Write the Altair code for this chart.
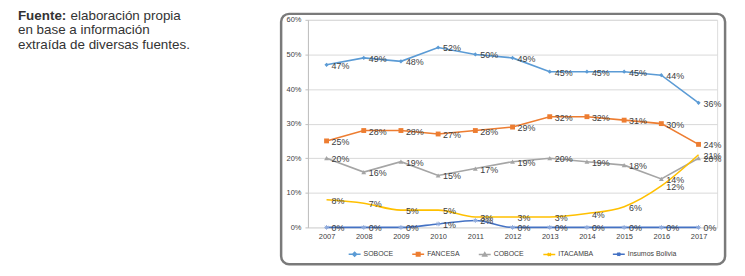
import altair as alt
import pandas as pd

years = ["2007", "2008", "2009", "2010", "2011", "2012", "2013", "2014", "2015", "2016", "2017"]
series = ["SOBOCE", "FANCESA", "COBOCE", "ITACAMBA", "Insumos Bolivia"]
soboce = [47, 49, 48, 52, 50, 49, 45, 45, 45, 44, 36]
fancesa = [25, 28, 28, 27, 28, 29, 32, 32, 31, 30, 24]
coboce = [20, 16, 19, 15, 17, 19, 20, 19, 18, 14, 20]
itacamba = [8, 7, 5, 5, 3, 3, 3, 4, 6, 12, 21]
insumos = [0, 0, 0, 1, 2, 0, 0, 0, 0, 0, 0]
colors = ["#5B9BD5", "#ED7D31", "#A5A5A5", "#FFC000", "#4472C4"]
y_ticks = [0, 10, 20, 30, 40, 50, 60]
note_bold = "Fuente:"
note_first = "elaboración propia"
note_second = "en base a información"
note_third = "extraída de diversas fuentes."

values = [soboce, fancesa, coboce, itacamba, insumos]
rows = []
for s, vals in zip(series, values):
    for yr, v in zip(years, vals):
        rows.append({"year": yr, "serie": s, "value": v})
df = pd.DataFrame(rows)

color_scale = alt.Scale(domain=series, range=colors)

legend_paths = {
    "SOBOCE": "M-1,0H1M0,-0.33L0.33,0L0,0.33L-0.33,0Z",
    "FANCESA": "M-1,0H1M-0.3,-0.3H0.3V0.3H-0.3Z",
    "COBOCE": "M-1,0H1M0,-0.3L0.33,0.25H-0.33Z",
    "ITACAMBA": "M-1,0H1M-0.25,-0.25L0.25,0.25M-0.25,0.25L0.25,-0.25",
    "Insumos Bolivia": "M-1,0H1M-0.25,-0.25L0.25,0.25M-0.25,0.25L0.25,-0.25M0,-0.3V0.3",
}
shape_expr = "{" + ",".join(f"'{k}':'{v}'" for k, v in legend_paths.items()) + "}[datum.value]"
fill_expr = "{" + ",".join(f"'{k}':'{c}'" for k, c in zip(series, colors)) + "}[datum.value]"

legend = alt.Legend(
    orient="none", legendX=40, legendY=229, direction="horizontal", title=None,
    labelFontSize=7, labelColor="#404040", labelFont="Liberation Sans",
    symbolSize=144, symbolStrokeWidth=1.5, columnPadding=16, labelOffset=2,
    symbolType=alt.ExprRef(expr=shape_expr),
    symbolFillColor=alt.ExprRef(expr=fill_expr),
)

x_enc = alt.X("year:O", scale=alt.Scale(type="point", padding=0.5),
              axis=alt.Axis(title=None, labelAngle=0, ticks=False, domain=False,
                            labelFontSize=7.5, labelColor="#404040", labelPadding=5,
                            labelFont="Liberation Sans"))
y_enc = alt.Y("value:Q", scale=alt.Scale(domain=[0, 60], nice=False),
              axis=alt.Axis(title=None, values=y_ticks, labelExpr="datum.value + '%'",
                            tickSize=3, tickColor="#BFBFBF", domainColor="#BFBFBF",
                            gridColor="#D9D9D9", labelFontSize=7.5, labelColor="#404040",
                            labelPadding=4, labelFont="Liberation Sans"))

base = alt.Chart(df).encode(x=x_enc, y=y_enc)

lines_straight = base.transform_filter(
    alt.FieldOneOfPredicate(field="serie", oneOf=["SOBOCE", "FANCESA", "COBOCE"])
).mark_line(strokeWidth=1.6).encode(color=alt.Color("serie:N", scale=color_scale, legend=legend))

lines_smooth = base.transform_filter(
    alt.FieldOneOfPredicate(field="serie", oneOf=["ITACAMBA", "Insumos Bolivia"])
).mark_line(strokeWidth=1.6, interpolate="monotone").encode(
    color=alt.Color("serie:N", scale=color_scale, legend=legend))

def pts(name, **kw):
    return base.transform_filter(alt.datum.serie == name).mark_point(**kw)

p_sob = pts("SOBOCE", shape="diamond", size=18, filled=True, color=colors[0], opacity=1)
p_fan = pts("FANCESA", shape="square", size=24, filled=True, color=colors[1], opacity=1)
p_cob = pts("COBOCE", shape="triangle-up", size=24, filled=True, color=colors[2], opacity=1)
p_ins = pts("Insumos Bolivia",
            shape="M-1,0H1M0,-1V1M-0.7,-0.7L0.7,0.7M-0.7,0.7L0.7,-0.7",
            size=22, filled=False, color="#8FAADC", strokeWidth=1, opacity=1)

labels = base.mark_text(align="left", baseline="middle", dx=5, dy=1, fontSize=9,
                        color="#404040", font="Liberation Sans").encode(
    text=alt.Text("label:N")).transform_calculate(label="datum.value + '%'")

one = pd.DataFrame({"a": [0]})
frame = alt.Chart(one).mark_rect(fillOpacity=0, stroke="#7A7A7A", strokeWidth=2.5,
                                 cornerRadius=8).encode(
    x=alt.value(-27), x2=alt.value(420), y=alt.value(-6), y2=alt.value(246))

nfont = dict(font="Liberation Sans", fontSize=13.5, color="#333333", align="left",
             baseline="alphabetic")
n0 = alt.Chart(one).mark_text(text=note_bold, fontWeight="bold", **nfont).encode(
    x=alt.value(-292), y=alt.value(0))
n1 = alt.Chart(one).mark_text(text=note_first, **nfont).encode(
    x=alt.value(-239), y=alt.value(0))
n2 = alt.Chart(one).mark_text(text=note_second, **nfont).encode(
    x=alt.value(-292), y=alt.value(14.5))
n3 = alt.Chart(one).mark_text(text=note_third, **nfont).encode(
    x=alt.value(-292), y=alt.value(29))

chart = alt.layer(
    frame, n0, n1, n2, n3, lines_straight, lines_smooth, p_sob, p_fan, p_cob, p_ins, labels
).properties(
    width=412, height=209,
    autosize=alt.AutoSizeParams(type="none"),
    padding={"left": 302, "top": 11, "right": 20, "bottom": 45},
).configure_view(stroke="#BFBFBF", strokeWidth=1).configure(background="white")

chart.save("out.html", embed_options={"renderer": "svg", "actions": False})
